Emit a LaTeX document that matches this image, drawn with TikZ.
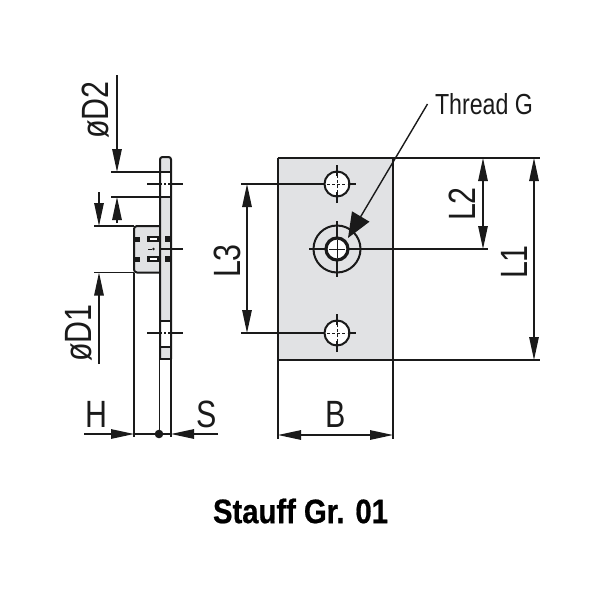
\documentclass[tikz,border=0pt]{standalone}
\usepackage{fontspec}
\usetikzlibrary{arrows.meta}
\setmainfont{Liberation Sans}
\newfontfamily\dimfont[FakeStretch=0.8]{Liberation Sans}
\newfontfamily\titlefont[FakeStretch=0.86,FakeBold=0.6]{Liberation Sans Bold}
\definecolor{plategray}{HTML}{E1E2E4}
\definecolor{ink}{HTML}{1A1A1A}
\tikzset{
  outline/.style={draw=ink,line width=2pt},
  thin line/.style={draw=ink,line width=1.6pt},
  center mark/.style={draw=ink,line width=2pt},
  hair/.style={draw=ink,line width=0.9pt},
  dimline/.style={draw=ink,line width=1.3pt,-{Triangle[length=23pt,width=9.5pt]}},
  dimboth/.style={draw=ink,line width=1.3pt,{Triangle[length=23pt,width=9.5pt]}-{Triangle[length=23pt,width=9.5pt]}},
  leader/.style={draw=ink,line width=1.4pt,-{Triangle[length=25pt,width=20pt]}},
  dimlabel/.style={font=\dimfont\fontsize{38}{38}\selectfont,text=ink,inner sep=0pt},
  smalllabel/.style={font=\dimfont\fontsize{29}{29}\selectfont,text=ink,inner sep=0pt},
  titlelabel/.style={font=\titlefont\fontsize{34}{34}\selectfont,text=black,inner sep=0pt}
}
\begin{document}
\begin{tikzpicture}[x=1pt,y=-1pt]
\useasboundingbox (0,0) rectangle (600,600);
% key coordinates
\coordinate (pTL) at (278,158);
\coordinate (pBR) at (393,360);
\coordinate (hA) at (337,184);
\coordinate (hB) at (337,249);
\coordinate (hC) at (337,333);
% front plate
\fill[plategray] (pTL) rectangle (pBR);
\draw[thin line] (278,158) -- (278,439);
\draw[thin line] (393,158) -- (393,439);
\draw[outline] (277.5,158) -- (393,158);
\draw[outline] (278,360) -- (393,360);
\draw[outline] (278,158) -- (278,184);
% holes
\foreach \c in {hA,hC}{
  \draw[outline,fill=white] (\c) circle (12.5);
  \draw[center mark] ([yshift=-19]\c) -- ([yshift=-8]\c);
  \draw[center mark] ([yshift=8]\c) -- ([yshift=19]\c);
  \draw[center mark] ([xshift=11]\c) -- ([xshift=19]\c);
  \draw[hair,dash pattern=on 3pt off 2pt] ([yshift=-9]\c) -- ([yshift=9]\c);
  \draw[hair,dash pattern=on 3pt off 2pt] ([xshift=-10]\c) -- ([xshift=10]\c);
}
\draw[outline,fill=plategray] (hB) circle (23.5);
\draw[draw=ink,line width=3.2pt,fill=white] (hB) circle (11);
\draw[center mark] (337,221) -- (337,237) (337,261) -- (337,277);
\draw[center mark] (309,249) -- (326,249);
\draw[hair] (337,240) -- (337,258) (329,249) -- (345,249);
% front view dims
\draw[thin line] (241,184) -- (325,184);
\draw[thin line] (241,333) -- (325,333);
\draw[thin line] (348,249) -- (488,249);
\draw[thin line] (393,158) -- (540,158);
\draw[thin line] (393,360) -- (540,360);
\coordinate (l3a) at (247,184); \coordinate (l3b) at (247,333);
\coordinate (l2a) at (483,158); \coordinate (l2b) at (483,249);
\coordinate (l1a) at (534,158); \coordinate (l1b) at (534,360);
\coordinate (ba) at (278,435); \coordinate (bb) at (393,435);
\draw[dimboth] (l3a) -- (l3b);
\draw[dimboth] (l2a) -- (l2b);
\draw[dimboth] (l1a) -- (l1b);
\draw[dimboth] (ba) -- (bb);
\coordinate (leadstart) at (427.5,104);
\coordinate (leadtip) at (348,238);
\draw[leader] (leadstart) -- (leadtip);
% side view
\fill[plategray] (160,157) rectangle (171,359);
\fill[white] (160,172) rectangle (171,197);
\fill[white] (160,321) rectangle (171,347);
\fill[plategray,rounded corners=3pt] (134,226) rectangle (160,272.5);
\draw[outline,rounded corners=2.5pt] (160,359) -- (160,157) -- (171,157) -- (171,359);
\draw[outline] (160,172) -- (171,172);
\draw[outline] (160,197) -- (171,197);
\draw[outline] (160,321) -- (171,321);
\draw[outline] (160,347) -- (171,347);
\draw[thin line] (160,359) -- (171,359);
\draw[outline,rounded corners=3pt] (160,226) -- (134,226) -- (134,272.5) -- (160,272.5);
% boss details
\foreach \yy in {239,259}{
  \fill[ink] (133,\yy-2.5) rectangle (140,\yy+2.5);
  \fill[ink] (147,\yy-3) rectangle (160,\yy+3);
  \fill[white] (149.5,\yy-1.3) rectangle (156.5,\yy+1.3);
  \fill[ink] (165,\yy-3) rectangle (171,\yy+3);
}
\draw[hair] (148,249) -- (152,249);
\fill[ink] (153.5,249) circle (1.3);
\draw[center mark] (161,249) -- (183,249);
\foreach \yy in {184,333}{
  \draw[center mark] (147,\yy) -- (162,\yy) (164,\yy) -- (165.5,\yy) (168,\yy) -- (183,\yy);
}
% side dims
\draw[thin line] (111,172) -- (160,172);
\draw[thin line] (111,197) -- (160,197);
\draw[thin line] (94,226) -- (134,226);
\draw[thin line] (94,272.5) -- (134,272.5);
\coordinate (d2t) at (117,75); \coordinate (d2a) at (117,172);
\coordinate (d2u) at (117,223); \coordinate (d2b) at (117,197);
\coordinate (d1t) at (99,192); \coordinate (d1a) at (99,226);
\coordinate (d1u) at (99,364); \coordinate (d1b) at (99,272.5);
\draw[dimline] (d2t) -- (d2a);
\draw[dimline] (d2u) -- (d2b);
\draw[dimline] (d1t) -- (d1a);
\draw[dimline] (d1u) -- (d1b);
\draw[thin line] (134,272.5) -- (134,437);
\draw[thin line] (159.5,359) -- (159.5,434);
\draw[thin line] (171,359) -- (171,437);
\coordinate (ht) at (84,434); \coordinate (hh) at (134,434);
\coordinate (st) at (218,434); \coordinate (sh) at (171,434);
\draw[dimline] (ht) -- (hh);
\draw[dimline] (st) -- (sh);
\draw[thin line] (134,434) -- (171,434);
\fill[ink] (159,434) circle (4.3);
% labels
\node[dimlabel,rotate=90] (labD2) at (96,110) {øD2};
\node[dimlabel,rotate=90] (labD1) at (79,333) {øD1};
\node[dimlabel,rotate=90] (labL3) at (227,261) {L3};
\node[dimlabel,rotate=90] (labL2) at (462,204) {L2};
\node[dimlabel,rotate=90] (labL1) at (514,262) {L1};
\node[dimlabel] (labH) at (96,414) {H};
\node[dimlabel] (labS) at (207,414) {S};
\node[dimlabel] (labB) at (336,414) {B};
\node[smalllabel] (labT) at (484,104) {Thread G};
\node[titlelabel] (labTitle) at (300.5,511) {Stauff Gr. 01};
\end{tikzpicture}
\end{document}
